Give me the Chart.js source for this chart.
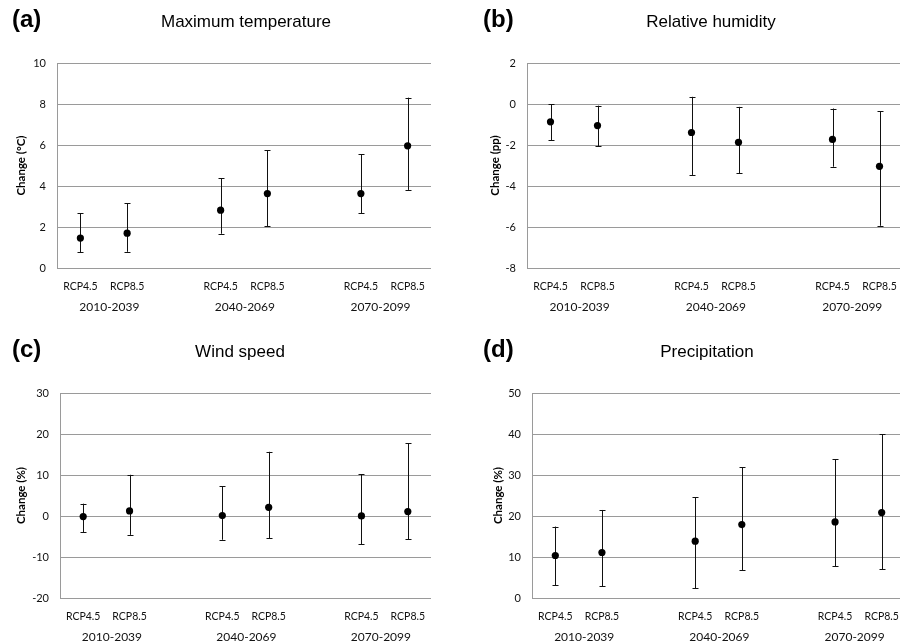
<!DOCTYPE html>
<html>
<head>
<meta charset="utf-8">
<script src="https://cdn.jsdelivr.net/npm/chart.js@4.4.1/dist/chart.umd.min.js"></script>
<style>
  html, body { margin: 0; padding: 0; background: #fff; }
  body { width: 900px; height: 642px; position: relative; overflow: hidden; }
  canvas { position: absolute; }
</style>
</head>
<body>
<canvas id="chartA"></canvas>
<canvas id="chartB"></canvas>
<canvas id="chartC"></canvas>
<canvas id="chartD"></canvas>
<script>
// categories (blank slots separate the periods)
const scenarios = ["RCP4.5", "RCP8.5", "", "RCP4.5", "RCP8.5", "", "RCP4.5", "RCP8.5"];
const periods = ["2010-2039", "2040-2069", "2070-2099"];

// (a) maximum temperature, °C
const tmaxMean = [1.46, 1.70, null, 2.82, 3.63, null, 3.63, 5.96];
const tmaxLow  = [0.76, 0.79, null, 1.67, 2.03, null, 2.67, 3.81];
const tmaxHigh = [2.67, 3.16, null, 4.38, 5.75, null, 5.56, 8.31];

// (b) relative humidity, pp
const rhMean = [-0.87, -1.05, null, -1.39, -1.87, null, -1.73, -3.04];
const rhLow  = [-1.78, -2.05, null, -3.46, -3.38, null, -3.06, -5.94];
const rhHigh = [0.00, -0.08, null, 0.35, -0.14, null, -0.22, -0.35];

// (c) wind speed, %
const windMean = [-0.15, 1.23, null, 0.10, 2.12, null, 0.02, 1.07];
const windLow  = [-3.95, -4.60, null, -5.80, -5.40, null, -6.95, -5.66];
const windHigh = [3.00, 10.05, null, 7.30, 15.66, null, 10.14, 17.70];

// (d) precipitation, %
const precMean = [10.37, 11.10, null, 13.86, 17.90, null, 18.55, 20.83];
const precLow  = [3.16, 2.84, null, 2.43, 6.73, null, 7.78, 6.97];
const precHigh = [17.42, 21.47, null, 24.55, 31.85, null, 33.80, 39.95];

// where the period labels sit, in category units
const PERIOD_AT = [0.62, 3.52, 6.42];

const tickFont = { family: "Lato", size: 11 };
const catFont = { family: "Lato", size: 10.5 };

// whiskers drawn under the points
const errorBars = {
  id: "errorBars",
  beforeDatasetsDraw(chart, args, opts) {
    const { ctx, scales: { x, y } } = chart;
    ctx.save();
    ctx.strokeStyle = "#111";
    ctx.lineWidth = 1;
    opts.low.forEach((lo, i) => {
      if (lo == null) return;
      const px = Math.round(x.getPixelForValue(i)) + 0.5;
      const y0 = y.getPixelForValue(lo);
      const y1 = y.getPixelForValue(opts.high[i]);
      ctx.beginPath();
      ctx.moveTo(px, y0); ctx.lineTo(px, y1);
      ctx.moveTo(px - 3, Math.round(y0) + 0.5); ctx.lineTo(px + 3, Math.round(y0) + 0.5);
      ctx.moveTo(px - 3, Math.round(y1) + 0.5); ctx.lineTo(px + 3, Math.round(y1) + 0.5);
      ctx.stroke();
    });
    ctx.restore();
  }
};

// panel letter, title, y title and period labels
const panelText = {
  id: "panelText",
  afterDraw(chart, args, o) {
    const { ctx, chartArea, scales: { x } } = chart;
    ctx.save();
    ctx.fillStyle = "#000";
    ctx.textBaseline = "alphabetic";
    ctx.textAlign = "left";
    ctx.font = "bold 24px 'Liberation Sans', Arial, sans-serif";
    ctx.fillText(o.letter, o.letterX, o.baseY);
    ctx.textAlign = "center";
    ctx.font = "17px 'Liberation Sans', Arial, sans-serif";
    ctx.fillText(o.title, o.titleX, o.baseY);

    ctx.textBaseline = "middle";
    ctx.font = "12px Lato, sans-serif";
    ctx.fillStyle = "#111";
    PERIOD_AT.forEach((v, k) => {
      ctx.fillText(periods[k], x.getPixelForValue(v), chartArea.bottom + 39);
    });

    ctx.save();
    ctx.translate(o.yTitleX, (chartArea.top + chartArea.bottom) / 2);
    ctx.rotate(-Math.PI / 2);
    ctx.font = "bold 11.5px Lato, sans-serif";
    ctx.fillStyle = "#000";
    ctx.fillText(o.yTitle, 0, 0);
    ctx.restore();
    ctx.restore();
  }
};

function makePanel(id, p) {
  const el = document.getElementById(id);
  el.width = p.w; el.height = p.h;
  el.style.left = p.cx + "px"; el.style.top = p.cy + "px";
  const plotL = p.plot[0] - p.cx, plotT = p.plot[1] - p.cy;
  const plotR = p.plot[2] - p.cx, plotB = p.plot[3] - p.cy;

  return new Chart(el, {
    type: "line",
    data: {
      labels: scenarios,
      datasets: [{
        data: p.mean,
        showLine: false,
        pointRadius: 3.6,
        pointHoverRadius: 3.6,
        pointBackgroundColor: "#000",
        pointBorderColor: "#000",
        pointBorderWidth: 0
      }]
    },
    options: {
      responsive: false,
      animation: false,
      events: [],
      layout: { padding: { left: 0, top: plotT, right: p.w - plotR, bottom: 0 } },
      plugins: {
        legend: { display: false },
        tooltip: { enabled: false },
        errorBars: { low: p.low, high: p.high },
        panelText: {
          letter: p.letter, title: p.title, yTitle: p.yTitle,
          letterX: p.letterX - p.cx, titleX: p.titleX - p.cx,
          baseY: p.baseY - p.cy, yTitleX: p.yTitleX - p.cx
        }
      },
      scales: {
        x: {
          type: "category",
          offset: true,
          grid: { display: false, drawTicks: false },
          border: { display: false },
          ticks: { font: catFont, color: "#111", padding: 12, maxRotation: 0, autoSkip: false },
          afterFit(s) { s.height = p.h - plotB; }
        },
        y: {
          min: p.min, max: p.max,
          grid: { color: "#9a9a9a", lineWidth: 1, drawTicks: false },
          border: { display: true, color: "#9a9a9a", width: 1 },
          ticks: { stepSize: p.step, font: tickFont, color: "#111", padding: 11 },
          afterFit(s) { s.width = plotL; }
        }
      }
    },
    plugins: [errorBars, panelText]
  });
}

makePanel("chartA", {
  cx: 0, cy: 0, w: 450, h: 320, plot: [57, 63, 431, 268],
  mean: tmaxMean, low: tmaxLow, high: tmaxHigh, min: 0, max: 10, step: 2,
  letter: "(a)", title: "Maximum temperature", yTitle: "Change (°C)",
  letterX: 12, titleX: 246, baseY: 27, yTitleX: 21
});
makePanel("chartB", {
  cx: 450, cy: 0, w: 462, h: 320, plot: [527, 63, 903, 268],
  mean: rhMean, low: rhLow, high: rhHigh, min: -8, max: 2, step: 2,
  letter: "(b)", title: "Relative humidity", yTitle: "Change (pp)",
  letterX: 483, titleX: 711, baseY: 27, yTitleX: 495
});
makePanel("chartC", {
  cx: 0, cy: 320, w: 450, h: 322, plot: [60, 393, 431, 598],
  mean: windMean, low: windLow, high: windHigh, min: -20, max: 30, step: 10,
  letter: "(c)", title: "Wind speed", yTitle: "Change (%)",
  letterX: 12, titleX: 240, baseY: 357, yTitleX: 21
});
makePanel("chartD", {
  cx: 450, cy: 320, w: 462, h: 322, plot: [532, 393, 905, 598],
  mean: precMean, low: precLow, high: precHigh, min: 0, max: 50, step: 10,
  letter: "(d)", title: "Precipitation", yTitle: "Change (%)",
  letterX: 483, titleX: 707, baseY: 357, yTitleX: 498
});
</script>
</body>
</html>
